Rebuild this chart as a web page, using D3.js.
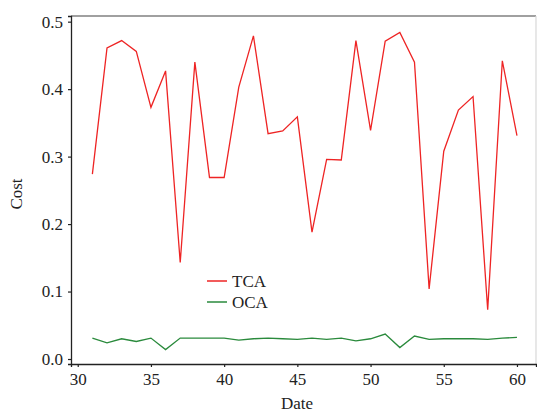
<!DOCTYPE html>
<html>
<head>
<meta charset="utf-8">
<script src="https://cdn.jsdelivr.net/npm/d3@7"></script>
<style>
  body { margin: 0; background: #fff; }
  svg { display: block; font-family: "Liberation Serif", "DejaVu Serif", serif; }
</style>
</head>
<body>
<svg id="chart" width="537" height="414"></svg>
<script>
// values
const dates = [31, 32, 33, 34, 35, 36, 37, 38, 39, 40, 41, 42, 43, 44, 45,
               46, 47, 48, 49, 50, 51, 52, 53, 54, 55, 56, 57, 58, 59, 60];
const tca = [0.274, 0.461, 0.472, 0.456, 0.373, 0.427, 0.143, 0.440, 0.269, 0.269,
             0.403, 0.479, 0.334, 0.338, 0.359, 0.188, 0.296, 0.295, 0.472, 0.339,
             0.471, 0.484, 0.440, 0.104, 0.308, 0.369, 0.389, 0.073, 0.442, 0.331];
const oca = [0.031, 0.024, 0.030, 0.026, 0.031, 0.014, 0.031, 0.031, 0.031, 0.031,
             0.028, 0.030, 0.031, 0.030, 0.029, 0.031, 0.029, 0.031, 0.027, 0.030,
             0.037, 0.017, 0.034, 0.029, 0.030, 0.030, 0.030, 0.029, 0.031, 0.032];
const xTicks = [30, 35, 40, 45, 50, 55, 60];
const yTicks = [0.0, 0.1, 0.2, 0.3, 0.4, 0.5];
const seriesNames = ["TCA", "OCA"];
const seriesColors = ["#ee2424", "#2a8a3c"];

const svg = d3.select("#chart");
const mLeft = 71, mRight = 536, mTop = 16, mBottom = 364;

const x = d3.scaleLinear().domain([29.54, 61.3]).range([mLeft, mRight]);
const y = d3.scaleLinear().domain([-0.0074, 0.5084]).range([mBottom, mTop]);

// frame: top and right are grey
svg.append("line").attr("x1", mLeft).attr("x2", mRight).attr("y1", mTop).attr("y2", mTop)
  .attr("stroke", "#808080").attr("stroke-width", 1.4);
svg.append("line").attr("x1", mRight).attr("x2", mRight).attr("y1", mTop).attr("y2", mBottom)
  .attr("stroke", "#d8d8d8").attr("stroke-width", 1.2);

// lines
const line = d3.line().x((d, i) => x(dates[i])).y(d => y(d));
[tca, oca].forEach((vals, k) => {
  svg.append("path")
    .datum(vals)
    .attr("fill", "none")
    .attr("stroke", seriesColors[k])
    .attr("stroke-width", 1.3)
    .attr("d", line);
});

// axes
const xAxis = svg.append("g")
  .attr("transform", `translate(0,${mBottom})`)
  .call(d3.axisBottom(x).tickValues(xTicks).tickSize(3).tickPadding(6).tickFormat(d3.format("d")));
const yAxis = svg.append("g")
  .attr("transform", `translate(${mLeft},0)`)
  .call(d3.axisLeft(y).tickValues(yTicks).tickSize(3).tickPadding(5).tickFormat(d3.format(".1f")));

[xAxis, yAxis].forEach(g => {
  g.select(".domain").attr("stroke", "#222").attr("stroke-width", 1.3);
  g.selectAll(".tick line").attr("stroke", "#222").attr("stroke-width", 1.2);
  g.selectAll("text").attr("fill", "#222").style("font-size", "17px")
    .style("font-family", "'Liberation Serif', serif");
});

// axis titles
svg.append("text")
  .attr("x", 297).attr("y", 409)
  .attr("text-anchor", "middle")
  .attr("fill", "#222")
  .style("font-size", "17px")
  .text("Date");
svg.append("text")
  .attr("transform", "translate(22,194) rotate(-90)")
  .attr("text-anchor", "middle")
  .attr("fill", "#222")
  .style("font-size", "17px")
  .text("Cost");

// legend
const legend = svg.append("g").attr("transform", "translate(207,281)");
seriesNames.forEach((name, i) => {
  const row = legend.append("g").attr("transform", `translate(0,${i * 21})`);
  row.append("line").attr("x1", 0).attr("x2", 20).attr("y1", 0).attr("y2", 0)
    .attr("stroke", seriesColors[i]).attr("stroke-width", 1.5);
  row.append("text")
    .attr("x", 25).attr("y", 6)
    .attr("fill", "#222")
    .style("font-size", "17px")
    .text(name);
});
</script>
</body>
</html>
